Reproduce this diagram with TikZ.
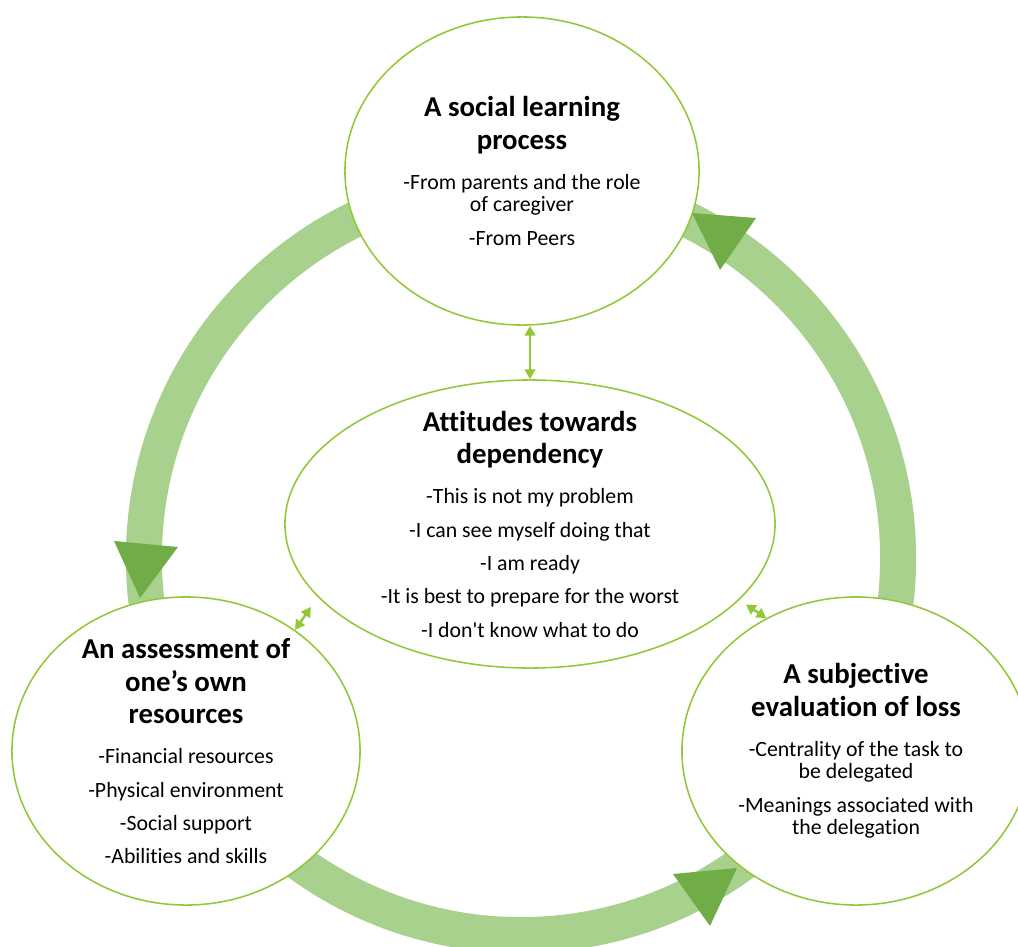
\documentclass[tikz,border=0pt]{standalone}
\usepackage{fontspec}
\setmainfont{Carlito}[Ligatures={TeX,NoCommon}]
\usetikzlibrary{arrows.meta, shapes.geometric}

\definecolor{ringgreen}{RGB}{169,209,142}
\definecolor{headgreen}{RGB}{112,173,71}
\definecolor{linegreen}{RGB}{146,200,56}

\newcommand{\bodyfont}{\fontsize{15.5}{16}\selectfont\lineskiplimit=-50pt}
\newcommand{\hd}[1]{{\fontsize{20.5}{16}\selectfont\bfseries #1}}

\tikzset{
  blob/.style={ellipse, draw=linegreen, line width=1.1pt, fill=white, inner sep=0pt},
  txt/.style={align=center, font=\bodyfont, inner sep=0pt},
  link/.style={draw=linegreen, line width=1.8pt, {Triangle[length=7pt,width=7.5pt]}-{Triangle[length=7pt,width=7.5pt]}}
}

\begin{document}
\begin{tikzpicture}[x=0.025cm, y=-0.025cm]
    \useasboundingbox (0,0) rectangle (1018,946);
    \clip (0,0) rectangle (1018,946);

    % Cycle ring behind the circles
    \draw[ringgreen, line width=0.9cm] (521,558) circle (9.425cm);

    % Arrowheads on the ring
    \fill[headgreen] (114,541) -- (178,547) -- (140,598) -- cycle;
    \fill[headgreen] (692,213) -- (756,218) -- (720,270) -- cycle;
    \fill[headgreen] (673,874) -- (737,868) -- (710,926) -- cycle;

    % Circles
    \node[blob, minimum width=8.85cm, minimum height=7.7cm] (social) at (522,171) {};
    \node[blob, minimum width=8.7cm, minimum height=7.7cm] (assess) at (186,751) {};
    \node[blob, minimum width=8.7cm, minimum height=7.7cm] (loss) at (856,751) {};
    \node[blob, minimum width=12.25cm, minimum height=7.2cm] (attitude) at (530,524) {};

    % Texts
    \node[txt] (social-t) at (social) {\hd{A social learning}\\[7.4pt]\hd{process}\\[12.3pt]
        -From parents and the role\\of caregiver\\[7.7pt]-From Peers};
    \node[txt] (assess-t) at (assess) {\hd{An assessment of}\\[7.4pt]\hd{one’s own}\\[7.4pt]\hd{resources}\\[12.3pt]
        -Financial resources\\[7.7pt]-Physical environment\\[7.7pt]-Social support\\[7.7pt]-Abilities and skills};
    \node[txt] (loss-t) at (loss) {\hd{A subjective}\\[7.4pt]\hd{evaluation of loss}\\[12.3pt]
        -Centrality of the task to\\be delegated\\[7.7pt]-Meanings associated with\\the delegation};
    \node[txt] (attitude-t) at (attitude) {\hd{Attitudes towards}\\[7.4pt]\hd{dependency}\\[12.3pt]
        -This is not my problem\\[7.7pt]-I can see myself doing that\\[7.7pt]-I am ready\\[7.7pt]
        -It is best to prepare for the worst\\[7.7pt]-I don\textquotesingle t know what to do};

    % Double arrows
    \draw[link] (attitude.north |- social.south) -- (attitude.north);
    \draw[link, shorten >=0.3cm] (assess.48) -- (attitude.199.6);
    \draw[link, shorten <=0.2cm] (attitude.340.9) -- (loss.124);
\end{tikzpicture}
\end{document}
